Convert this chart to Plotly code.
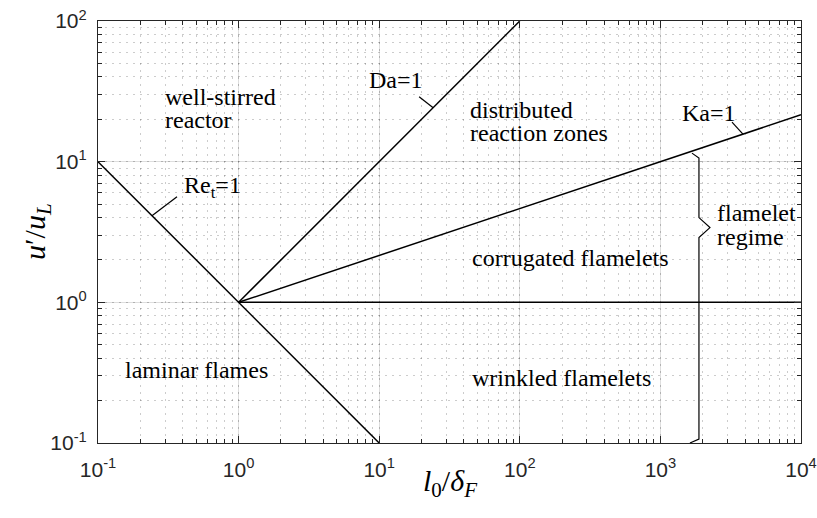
import numpy as np
import plotly.graph_objects as go

# Regime boundaries of the turbulent premixed combustion diagram
re_x = [0.1, 10.0]          # Re_t = 1 : u'/uL = (l0/dF)^-1
re_y = [10.0, 0.1]
da_x = [1.0, 100.0]         # Da = 1 : u'/uL = l0/dF
da_y = [1.0, 100.0]
ka_x = [1.0, 1.0e4]         # Ka = 1 : u'/uL = (l0/dF)^(1/3)
ka_y = [1.0, 21.54]
fl_x = [1.0, 1.0e4]         # u'/uL = 1
fl_y = [1.0, 1.0]

# Decade ticks
x_tickvals = [0.1, 1, 10, 100, 1000, 10000]
x_ticktext = ["10<sup>-1</sup>", "10<sup>0</sup>", "10<sup>1</sup>",
              "10<sup>2</sup>", "10<sup>3</sup>", "10<sup>4</sup>"]
y_tickvals = [0.1, 1, 10, 100]
y_ticktext = ["10<sup>-1</sup>", "10<sup>0</sup>", "10<sup>1</sup>", "10<sup>2</sup>"]

# Brace marking the flamelet regime
brace_x = 1.88e3
brace_bottom = 0.1
brace_tip = 3.4
brace_top = 11.5

# Region labels: (text, log10 x of left edge, log10 y of line centre)
region_labels = [
    ("well-stirred", -0.538, 1.46),
    ("reactor", -0.538, 1.297),
    ("distributed", 1.632, 1.37),
    ("reaction zones", 1.632, 1.206),
    ("flamelet", 3.388, 0.636),
    ("regime", 3.388, 0.465),
    ("corrugated flamelets", 1.646, 0.316),
    ("laminar flames", -0.822, -0.48),
    ("wrinkled flamelets", 1.646, -0.537),
]

# Line labels with leader lines: (text, log10 x text, log10 y text, x on curve, leader dx, dy in decades)
line_labels = [
    ("Re<sub>t</sub>=1", -0.403, 0.82, 0.242, 0.178, 0.135),
    ("Da=1", 0.913, 1.581, 24.2, -0.10, 0.078),
    ("Ka=1", 3.139, 1.346, 3865.0, -0.078, 0.085),
]
curve_of = {"Re": lambda x: 1.0 / x, "Da": lambda x: x, "Ka": lambda x: x ** (1.0 / 3.0)}

DEC = 140.6  # pixels per decade (used for small drawing offsets)
serif = "Liberation Serif, Times New Roman, serif"
sans = "Liberation Sans, Arial, Helvetica, sans-serif"

fig = go.Figure()
line_style = dict(color="black", width=1.5)
for xs, ys in [(re_x, re_y), (da_x, da_y), (ka_x, ka_y), (fl_x, fl_y)]:
    fig.add_trace(go.Scatter(x=xs, y=ys, mode="lines", line=line_style,
                             hoverinfo="skip", showlegend=False))

# Leader lines from the curves towards their labels
for (text, tx, ty, xc, ddx, ddy), key in zip(line_labels, ["Re", "Da", "Ka"]):
    yc = curve_of[key](xc)
    lx = [xc, xc * 10 ** ddx]
    ly = [yc, yc * 10 ** ddy]
    fig.add_trace(go.Scatter(x=lx, y=ly, mode="lines", line=dict(color="black", width=1.2),
                             hoverinfo="skip", showlegend=False))
    fig.add_annotation(x=tx, y=ty, xref="x", yref="y", text=text, showarrow=False,
                       xanchor="left", yanchor="middle",
                       font=dict(family=serif, size=24, color="black"))

# Curly brace built in log space with small pixel offsets
lb = np.log10(brace_x)
lyb, lyt, lym = np.log10(brace_bottom), np.log10(brace_top), np.log10(brace_tip)
bx = [lb - 9 / DEC, lb, lb, lb + 11 / DEC, lb, lb, lb - 7 / DEC]
by = [lyb, lyb + 4 / DEC, lym - 10 / DEC, lym, lym + 10 / DEC, lyt - 5 / DEC, lyt]
fig.add_trace(go.Scatter(x=10 ** np.array(bx), y=10 ** np.array(by), mode="lines",
                         line=dict(color="black", width=1.2),
                         hoverinfo="skip", showlegend=False))

for text, tx, ty in region_labels:
    fig.add_annotation(x=tx, y=ty, xref="x", yref="y", text=text, showarrow=False,
                       xanchor="left", yanchor="middle",
                       font=dict(family=serif, size=24, color="black"))

# Axis titles
fig.add_annotation(x=0.5, y=0, xref="paper", yref="paper", yshift=-40,
                   text="<i>l</i><sub>0</sub>/<i>δ</i><sub><i>F</i></sub>",
                   showarrow=False, xanchor="center", yanchor="middle",
                   font=dict(family=serif, size=30, color="black"))
fig.add_annotation(x=0, y=0.5, xref="paper", yref="paper", xshift=-61,
                   text="<i>u</i>′/<i>u</i><sub><i>L</i></sub>", textangle=-90,
                   showarrow=False, xanchor="center", yanchor="middle",
                   font=dict(family=serif, size=30, color="black"))

axis_common = dict(
    type="log", automargin=False,
    showline=True, linecolor="#262626", linewidth=1.2, mirror="ticks",
    ticks="inside", ticklen=7, tickwidth=1, tickcolor="#262626",
    showgrid=True, gridcolor="rgba(0,0,0,0.13)", gridwidth=1,
    zeroline=False,
    tickfont=dict(family=sans, size=21, color="#262626"),
    minor=dict(dtick="D1", ticks="inside", ticklen=4, tickwidth=1, tickcolor="#262626",
               showgrid=True, gridcolor="rgba(0,0,0,0.2)", griddash="2px,5px", gridwidth=1),
)
fig.update_xaxes(range=[-1, 4], tickvals=x_tickvals, ticktext=x_ticktext,
                 ticklabelstandoff=8, **axis_common)
fig.update_yaxes(range=[-1, 2], tickvals=y_tickvals, ticktext=y_ticktext,
                 ticklabelstandoff=6, **axis_common)

fig.update_layout(
    width=817, height=518,
    margin=dict(l=98, r=16, t=21, b=75),
    plot_bgcolor="white", paper_bgcolor="white",
)

fig.write_html("out.html")
